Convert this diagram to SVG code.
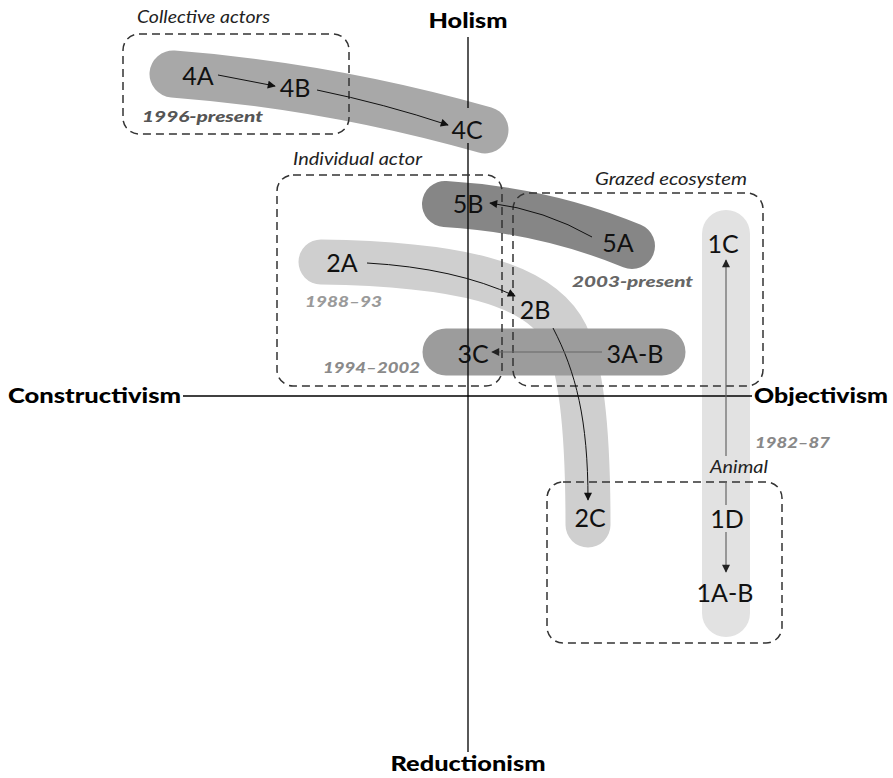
<svg xmlns="http://www.w3.org/2000/svg" width="893" height="778" viewBox="0 0 893 778">
  <style>
    .band { fill: none; stroke-linecap: round; }
    .axis { stroke: #000; stroke-width: 1.3; fill: none; }
    .box { fill: none; stroke: #333; stroke-width: 1.5; stroke-dasharray: 8 5; }
    .arr { fill: none; stroke: #111; stroke-width: 1; marker-end: url(#head); }
    .arr-g { fill: none; stroke: #666; stroke-width: 1.2; }
    .node { font-family: Lato, "Open Sans", sans-serif; font-size: 25px; fill: #111; text-anchor: middle; }
    .axlab { font-family: Lato, "Open Sans", sans-serif; font-size: 20px; font-weight: 900; fill: #000; }
    .grp { font-family: Lato, "Open Sans", sans-serif; font-size: 18px; font-style: italic; fill: #222; }
    .yr { font-family: Lato, "Open Sans", sans-serif; font-size: 15px; font-style: italic; font-weight: 900; }
  </style>
  <defs>
    <marker id="head" viewBox="0 0 10 10" refX="9" refY="5" markerWidth="9" markerHeight="8" markerUnits="userSpaceOnUse" orient="auto">
      <path d="M0,0 L10,5 L0,10 Z" fill="#111"/>
    </marker>
    <marker id="head-g" viewBox="0 0 10 10" refX="9" refY="5" markerWidth="9" markerHeight="8" markerUnits="userSpaceOnUse" orient="auto">
      <path d="M0,0 L10,5 L0,10 Z" fill="#222"/>
    </marker>
  </defs>

  <!-- trajectory bands -->
  <g id="bands">
    <path id="band-1" class="band" d="M726,234 L726,613" stroke="#e2e2e2" stroke-width="48"/>
    <path id="band-2" class="band" d="M321,262 C455,264 540,282 566,335 C580,368 588,420 588,525" stroke="#cfcfcf" stroke-width="45"/>
    <path id="band-3" class="band" d="M446,352 L662,352" stroke="#9c9c9c" stroke-width="47"/>
    <path id="band-4" class="band" d="M173,74 Q330,86 485,130" stroke="#a8a8a8" stroke-width="47"/>
    <path id="band-5" class="band" d="M445,204 Q545,210 632,246" stroke="#868686" stroke-width="46"/>
  </g>

  <!-- axes -->
  <g id="axes">
    <path class="axis" d="M468,37 L468,108 M468,143 L468,752"/>
    <path class="axis" d="M183,396 L752,396"/>
    <text class="axlab" x="468" y="28" text-anchor="middle" textLength="79" lengthAdjust="spacingAndGlyphs">Holism</text>
    <text class="axlab" x="468" y="771" text-anchor="middle" textLength="155" lengthAdjust="spacingAndGlyphs">Reductionism</text>
    <text class="axlab" x="8" y="403" textLength="173" lengthAdjust="spacingAndGlyphs">Constructivism</text>
    <text class="axlab" x="754" y="403" textLength="134" lengthAdjust="spacingAndGlyphs">Objectivism</text>
  </g>

  <!-- grouping boxes -->
  <g id="box-collective">
    <rect class="box" x="123" y="34" width="226" height="100" rx="16"/>
    <text class="grp" x="137" y="23" textLength="133" lengthAdjust="spacingAndGlyphs">Collective actors</text>
  </g>
  <g id="box-individual">
    <rect class="box" x="277" y="175" width="225" height="211" rx="16"/>
    <text class="grp" x="293" y="165" textLength="129" lengthAdjust="spacingAndGlyphs">Individual actor</text>
  </g>
  <g id="box-grazed">
    <rect class="box" x="513" y="193" width="250" height="193" rx="16"/>
    <text class="grp" x="595" y="185" textLength="152" lengthAdjust="spacingAndGlyphs">Grazed ecosystem</text>
  </g>
  <g id="box-animal">
    <rect class="box" x="547" y="482" width="235" height="161" rx="16"/>
    <text class="grp" x="710" y="473" textLength="58" lengthAdjust="spacingAndGlyphs">Animal</text>
  </g>

  <!-- period labels -->
  <g id="periods">
    <text class="yr" x="142" y="122" fill="#555" textLength="121" lengthAdjust="spacingAndGlyphs">1996-present</text>
    <text class="yr" x="305" y="307" fill="#9a9a9a" textLength="77" lengthAdjust="spacingAndGlyphs">1988–93</text>
    <text class="yr" x="323" y="373" fill="#8a8a8a" textLength="97" lengthAdjust="spacingAndGlyphs">1994–2002</text>
    <text class="yr" x="572" y="287" fill="#666" textLength="121" lengthAdjust="spacingAndGlyphs">2003-present</text>
    <text class="yr" x="755" y="448" fill="#888" textLength="75" lengthAdjust="spacingAndGlyphs">1982–87</text>
  </g>

  <!-- connectors -->
  <g id="connectors">
    <path class="arr" d="M218,75 L275,86"/>
    <path class="arr" d="M317,90 Q385,104 448,125"/>
    <path class="arr" d="M592,237 Q545,210 490,203"/>
    <path class="arr" d="M367,263 Q455,268 515,296"/>
    <path class="arr" d="M553,328 C576,372 588,420 588,500"/>
    <path class="arr-g" d="M602,352 L492,352" marker-end="url(#head-g)"/>
    <path class="arr-g" d="M726,505 L726,482"/>
    <path class="arr-g" d="M726,456 L726,260" marker-end="url(#head-g)"/>
    <path class="arr-g" d="M726,532 L726,572" marker-end="url(#head-g)"/>
  </g>

  <!-- nodes -->
  <g id="node-4A"><text class="node" x="198" y="85">4A</text></g>
  <g id="node-4B"><text class="node" x="295" y="97">4B</text></g>
  <g id="node-4C"><text class="node" x="467" y="139">4C</text></g>
  <g id="node-5B"><text class="node" x="468" y="213">5B</text></g>
  <g id="node-5A"><text class="node" x="618" y="252">5A</text></g>
  <g id="node-2A"><text class="node" x="342" y="272">2A</text></g>
  <g id="node-2B"><text class="node" x="535" y="319">2B</text></g>
  <g id="node-3C"><text class="node" x="473" y="363">3C</text></g>
  <g id="node-3AB"><text class="node" x="635" y="363">3A-B</text></g>
  <g id="node-1C"><text class="node" x="723" y="253">1C</text></g>
  <g id="node-2C"><text class="node" x="590" y="527">2C</text></g>
  <g id="node-1D"><text class="node" x="727" y="528">1D</text></g>
  <g id="node-1AB"><text class="node" x="725" y="602">1A-B</text></g>
</svg>
